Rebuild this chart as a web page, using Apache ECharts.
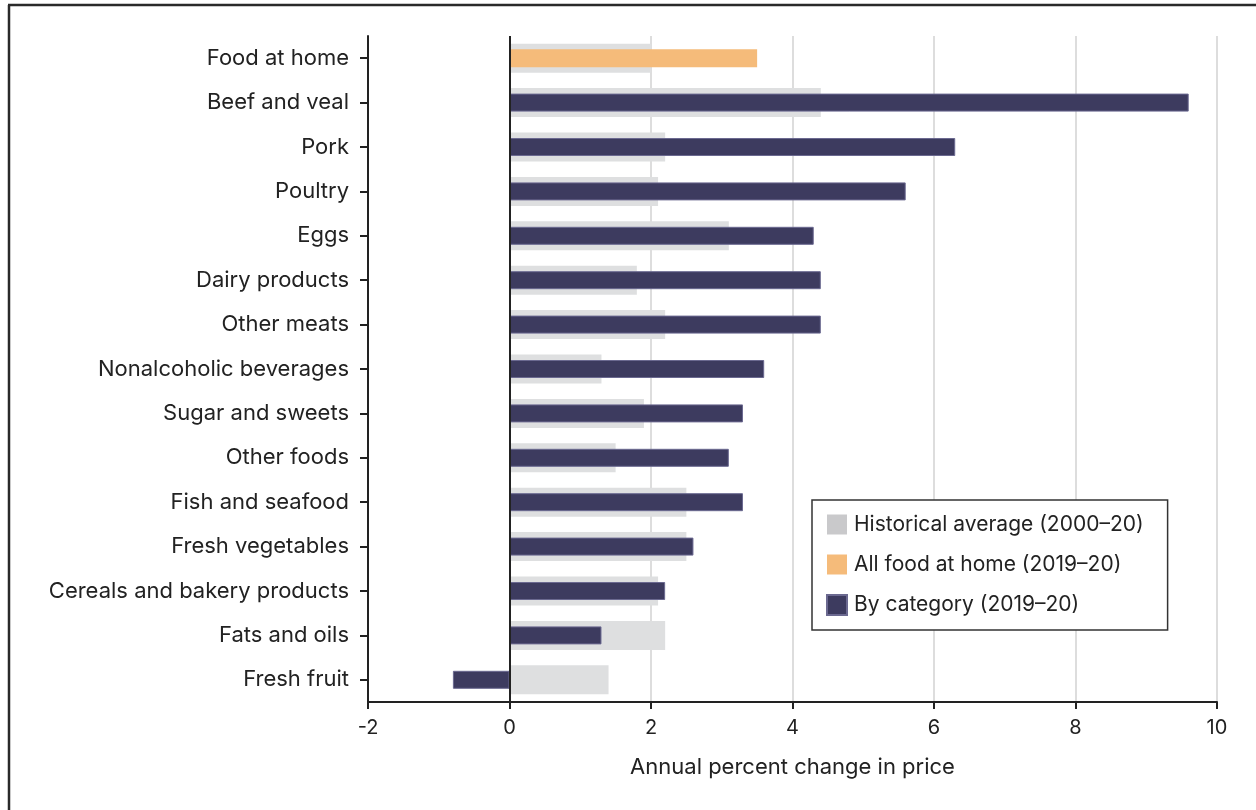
<!DOCTYPE html>
<html>
<head>
<meta charset="utf-8">
<script src="https://cdn.jsdelivr.net/npm/echarts@6/dist/echarts.min.js"></script>
<style>
html, body { margin: 0; padding: 0; background: #fff; }
#chart { width: 1256px; height: 810px; }
</style>
</head>
<body>
<div id="chart"></div>
<script>
var categories = ['Food at home', 'Beef and veal', 'Pork', 'Poultry', 'Eggs', 'Dairy products',
	'Other meats', 'Nonalcoholic beverages', 'Sugar and sweets', 'Other foods', 'Fish and seafood',
	'Fresh vegetables', 'Cereals and bakery products', 'Fats and oils', 'Fresh fruit'];
var historical = [2.0, 4.4, 2.2, 2.1, 3.1, 1.8, 2.2, 1.3, 1.9, 1.5, 2.5, 2.5, 2.1, 2.2, 1.4];
var allFood = [3.5, null, null, null, null, null, null, null, null, null, null, null, null, null, null];
var byCategory = [null, 9.6, 6.3, 5.6, 4.3, 4.4, 4.4, 3.6, 3.3, 3.1, 3.3, 2.6, 2.2, 1.3, -0.8];
var xTicks = { min: -2, max: 10, interval: 2 };

var font = 'Inter, "Noto Sans", sans-serif';
var ink = '#222';

var myChart = echarts.init(document.getElementById('chart'));
var option = {
	animation: false,
	textStyle: { fontFamily: font },
	grid: { left: 368, right: 39, top: 36, bottom: 108 },
	graphic: [
		{ type: 'line', shape: { x1: 8, y1: 5, x2: 1256, y2: 5 }, style: { stroke: '#2a2a2a', lineWidth: 2.5 } },
		{ type: 'line', shape: { x1: 9, y1: 5, x2: 9, y2: 810 }, style: { stroke: '#2a2a2a', lineWidth: 2.5 } }
	],
	legend: {
		orient: 'vertical',
		left: 812, top: 500,
		padding: [14, 24, 14, 14],
		icon: 'rect',
		itemWidth: 20, itemHeight: 20, itemGap: 19,
		borderColor: '#333', borderWidth: 1.5,
		backgroundColor: '#fff',
		textStyle: { fontFamily: font, fontSize: 21, color: ink, padding: [0, 0, 0, 2] },
		data: [
			{ name: 'Historical average (2000–20)', itemStyle: { color: '#c9c9cb' } },
			{ name: 'All food at home (2019–20)', itemStyle: { color: '#f5bb7a' } },
			{ name: 'By category (2019–20)', itemStyle: { color: '#3d3b5f' } }
		]
	},
	xAxis: {
		type: 'value',
		min: xTicks.min, max: xTicks.max, interval: xTicks.interval,
		name: 'Annual percent change in price',
		nameLocation: 'middle', nameGap: 54,
		nameTextStyle: { fontFamily: font, fontSize: 22, color: ink },
		axisLine: { show: true, lineStyle: { color: ink, width: 2 } },
		axisTick: { show: true, length: 7, lineStyle: { color: ink, width: 2 } },
		axisLabel: { fontFamily: font, fontSize: 20, color: ink, margin: 16 },
		splitLine: { show: true, lineStyle: { color: '#d2d2d2', width: 1.5 } }
	},
	yAxis: [
		{
			type: 'category',
			inverse: true,
			data: categories,
			axisLine: { show: true, onZero: false, lineStyle: { color: ink, width: 2 } },
			axisTick: { show: true, alignWithLabel: true, length: 8, lineStyle: { color: ink, width: 2 } },
			axisLabel: { fontFamily: font, fontSize: 22, color: ink, margin: 19 }
		},
		{
			type: 'category',
			inverse: true,
			data: categories,
			position: 'left',
			show: false
		}
	],
	series: [
		{
			name: 'Historical average (2000–20)',
			type: 'bar',
			yAxisIndex: 1,
			data: historical,
			barWidth: 29,
			itemStyle: { color: '#dedfe0' }
		},
		{
			name: 'All food at home (2019–20)',
			type: 'bar',
			data: allFood,
			barWidth: 18,
			barGap: '-100%',
			itemStyle: { color: '#f5bb7a' }
		},
		{
			name: 'By category (2019–20)',
			type: 'bar',
			data: byCategory,
			barWidth: 18,
			barGap: '-100%',
			itemStyle: { color: '#3d3b5f', borderColor: '#6b6990', borderWidth: 1 },
			markLine: {
				silent: true,
				symbol: 'none',
				label: { show: false },
				lineStyle: { color: ink, width: 2, type: 'solid' },
				data: [{ xAxis: 0 }]
			}
		}
	]
};
myChart.setOption(option);
</script>
</body>
</html>
